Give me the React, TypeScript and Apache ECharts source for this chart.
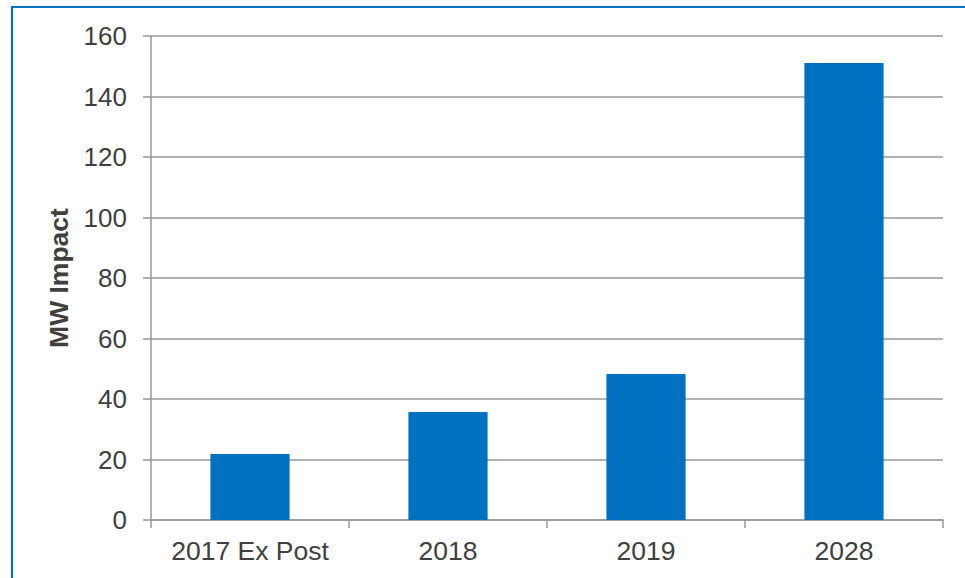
import React, { useEffect, useRef } from "react";
import * as echarts from "echarts";

const categories = ["2017 Ex Post", "2018", "2019", "2028"];
const mwImpact = [21.8, 35.7, 48.3, 151.1];
const yAxisTitle = "MW Impact";

export default function App() {
  const ref = useRef<HTMLDivElement>(null);
  useEffect(() => {
    if (!ref.current) return;
    const chart = echarts.init(ref.current, null, { renderer: "svg" });
    const gray = "#999999";
    const labelColor = "#404040";
    const font = "Liberation Sans, Arial, sans-serif";
    chart.setOption({
      animation: false,
      backgroundColor: "#ffffff",
      graphic: [
        {
          type: "rect",
          shape: { x: 12, y: 7, width: 1200, height: 1000 },
          style: { fill: "none", stroke: "#0070C0", lineWidth: 2 },
          silent: true,
        },
      ],
      grid: { left: 151, top: 36, right: 22, bottom: 58, containLabel: false },
      xAxis: {
        type: "category",
        data: categories,
        boundaryGap: true,
        axisLine: { show: true, lineStyle: { color: gray, width: 1.5 } },
        axisTick: { show: true, length: 8, alignWithLabel: false, lineStyle: { color: gray, width: 1.5 } },
        axisLabel: { color: labelColor, fontSize: 26.5, fontFamily: font, margin: 17, interval: 0 },
        splitLine: { show: false },
      },
      yAxis: {
        type: "value",
        min: 0,
        max: 160,
        interval: 20,
        name: yAxisTitle,
        nameLocation: "middle",
        nameGap: 78,
        nameRotate: 90,
        nameTextStyle: { color: labelColor, fontSize: 26.5, fontWeight: "bold", fontFamily: font },
        axisLine: { show: true, lineStyle: { color: gray, width: 1.5 } },
        axisTick: { show: true, length: 8, lineStyle: { color: gray, width: 1.5 } },
        axisLabel: { color: labelColor, fontSize: 26, fontFamily: font, margin: 24 },
        splitLine: { show: true, lineStyle: { color: gray, width: 1.5 } },
      },
      series: [
        {
          type: "bar",
          data: mwImpact,
          barWidth: "40%",
          itemStyle: { color: "#0070C0" },
        },
      ],
    });
    return () => chart.dispose();
  }, []);
  return (
    <div
      ref={ref}
      style={{ position: "absolute", left: 0, top: 0, width: 965, height: 578 }}
    />
  );
}
